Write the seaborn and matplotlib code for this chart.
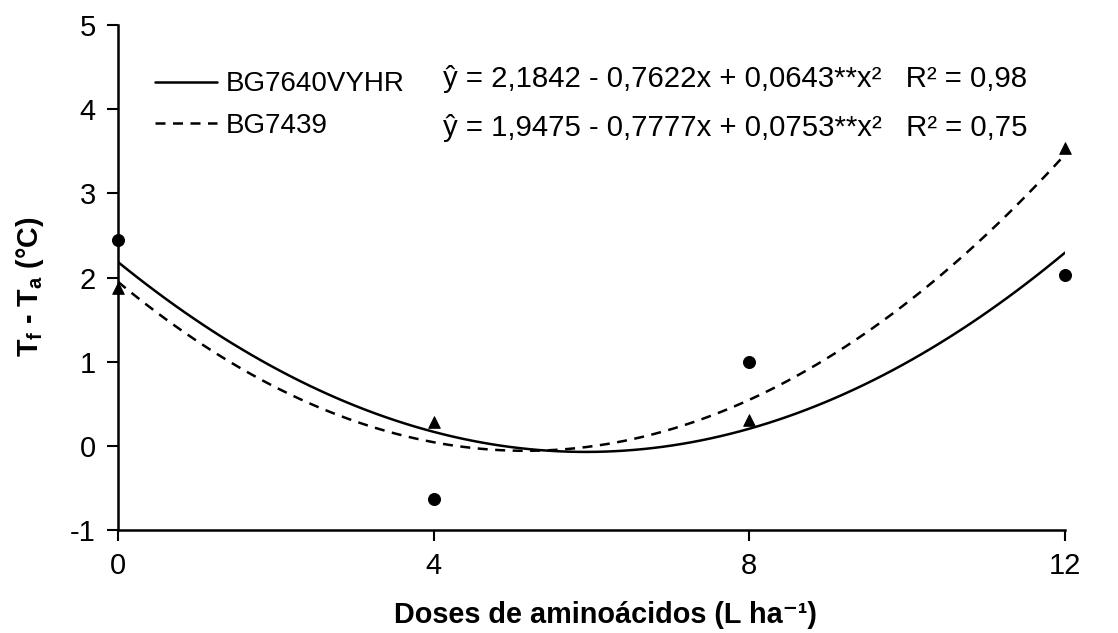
import numpy as np
import pandas as pd
import matplotlib
matplotlib.use("Agg")
import matplotlib.pyplot as plt
import seaborn as sns

doses = [0, 4, 8, 12]
bg7640 = [2.45, -0.63, 1.00, 2.03]
bg7439 = [1.87, 0.28, 0.31, 3.54]
cultivars = ["BG7640VYHR", "BG7439"]
equations = ["ŷ = 2,1842 - 0,7622x + 0,0643**x²   R² = 0,98",
             "ŷ = 1,9475 - 0,7777x + 0,0753**x²   R² = 0,75"]
yticks = [-1, 0, 1, 2, 3, 4, 5]
xticks = [0, 4, 8, 12]

sns.set_style("ticks")
plt.rcParams['font.family'] = ['Liberation Sans', 'DejaVu Sans']
plt.rcParams['mathtext.default'] = 'regular'
plt.rcParams['axes.unicode_minus'] = False
plt.rcParams['text.color'] = 'black'
plt.rcParams['axes.labelcolor'] = 'black'
plt.rcParams['xtick.color'] = 'black'
plt.rcParams['ytick.color'] = 'black'
plt.rcParams['axes.edgecolor'] = 'black'

df = pd.DataFrame({"dose": doses, "bg7640": bg7640, "bg7439": bg7439})

fig = plt.figure(figsize=(11.18, 6.33), dpi=100)
ax = fig.add_axes([0.1055, 0.1627, 0.8471, 0.7978])

# quadratic fits
sns.regplot(data=df, x="dose", y="bg7640", order=2, ci=None, scatter=False,
            color="black", line_kws={"lw": 1.8, "ls": "-"}, label=cultivars[0], ax=ax)
sns.regplot(data=df, x="dose", y="bg7439", order=2, ci=None, scatter=False,
            color="black", line_kws={"lw": 1.8, "ls": (0, (4, 3))}, label=cultivars[1], ax=ax)
# observed points
sns.scatterplot(data=df, x="dose", y="bg7640", marker="o", s=75, color="black",
                edgecolor="black", ax=ax, legend=False, clip_on=False, zorder=5)
sns.scatterplot(data=df, x="dose", y="bg7439", marker="^", s=70, color="black",
                edgecolor="black", ax=ax, legend=False, clip_on=False, zorder=5)

ax.set_xlim(0, 12)
ax.set_ylim(-1, 5)
ax.set_xticks(xticks)
ax.set_yticks(yticks)
ax.tick_params(labelsize=21, length=8, width=1.5, direction="out", pad=8)
for s in ["left", "bottom"]:
    ax.spines[s].set_linewidth(1.8)
sns.despine(ax=ax)

ax.set_xlabel("Doses de aminoácidos (L ha⁻¹)", fontsize=20.8, fontweight="bold")
ax.set_ylabel("T$_f$ - T$_a$ (°C)", fontsize=20.7, fontweight="bold")
ax.xaxis.set_label_coords(0.515, -0.141)
ax.yaxis.set_label_coords(-0.076, 0.481)

leg = ax.legend(loc="upper left", bbox_to_anchor=(0.027, 0.93), frameon=False,
                fontsize=20, handlelength=2.25, handletextpad=0.3, labelspacing=0.55,
                borderaxespad=0)

for i, eq in enumerate(equations):
    ax.text(0.343, 0.893 - i * 0.097, eq, transform=ax.transAxes, fontsize=21.2,
            va="center", ha="left")

fig.savefig("out.png", dpi=100)
